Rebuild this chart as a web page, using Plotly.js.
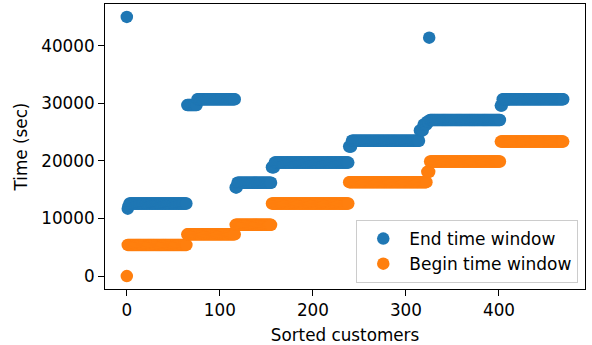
<!DOCTYPE html>
<html>
<head>
<meta charset="utf-8">
<script src="https://cdn.plot.ly/plotly-3.0.1.min.js"></script>
<style>html,body{margin:0;padding:0;background:#fff;}#chart{width:592px;height:345px;}</style>
</head>
<body>
<div id="chart"></div>
<script>
// Run-length encoded values: each value repeats "count" times
// along the sorted-customer index (0, 1, 2, ...).
const endValues   = [45000, 11700, 12200, 12600, 29700, 30700, 15400, 16200, 18900, 19700, 22500, 23500, 25300, 26300, 26800, 41400, 27100, 29600, 30700];
const endCounts   = [1,     1,     1,     62,    11,    41,    2,     37,    3,     80,    3,     73,    4,     4,     2,     1,     76,    2,     66];
const beginValues = [0, 5400, 7250, 8900, 12600, 16300, 18100, 19900, 23350];
const beginCounts = [1, 64,   52,   39,   83,    84,    3,     76,    68];
const xTicks = [0, 100, 200, 300, 400];
const yTicks = [0, 10000, 20000, 30000, 40000];

function expand(values, counts) {
  const out = [];
  values.forEach((v, i) => { for (let k = 0; k < counts[i]; k++) out.push(v); });
  return out;
}
const endY = expand(endValues, endCounts);
const beginY = expand(beginValues, beginCounts);
const endX = endY.map((_, i) => i);
const beginX = beginY.map((_, i) => i);

const FONT = 'DejaVu Sans, sans-serif';
const FS = 16.8;

const traces = [
  {x: endX, y: endY, type: 'scatter', mode: 'markers', name: 'End time window',
   marker: {color: '#1f77b4', size: 12.5, line: {width: 0}}},
  {x: beginX, y: beginY, type: 'scatter', mode: 'markers', name: 'Begin time window',
   marker: {color: '#ff7f0e', size: 12.5, line: {width: 0}}}
];

const axisCommon = {
  showline: true, mirror: true, linecolor: '#000', linewidth: 1,
  ticks: 'outside', ticklen: 6, tickwidth: 1, tickcolor: '#000',
  showgrid: false, zeroline: false,
  tickfont: {family: FONT, size: FS, color: '#000'}
};

const layout = {
  width: 592, height: 345,
  margin: {l: 105, r: 7, t: 4, b: 56},
  paper_bgcolor: '#fff', plot_bgcolor: '#fff',
  font: {family: FONT, size: FS, color: '#000'},
  showlegend: true,
  xaxis: Object.assign({}, axisCommon, {
    range: [-23.45, 492.45], tickmode: 'array', tickvals: xTicks, ticktext: xTicks.map(String),
    title: {text: 'Sorted customers', font: {family: FONT, size: FS, color: '#000'}, standoff: 10}
  }),
  yaxis: Object.assign({}, axisCommon, {
    range: [-2250, 47250], tickmode: 'array', tickvals: yTicks, ticktext: yTicks.map(String),
    title: {text: 'Time (sec)', font: {family: FONT, size: FS, color: '#000'}, standoff: 9}
  }),
  legend: {
    x: 0.986, xanchor: 'right', y: 0.021, yanchor: 'bottom',
    bgcolor: 'rgba(255,255,255,0.8)', bordercolor: '#cccccc', borderwidth: 1,
    font: {family: FONT, size: 17, color: '#000'}, itemwidth: 42
  }
};

Plotly.newPlot('chart', traces, layout, {displayModeBar: false, staticPlot: true});
</script>
</body>
</html>
